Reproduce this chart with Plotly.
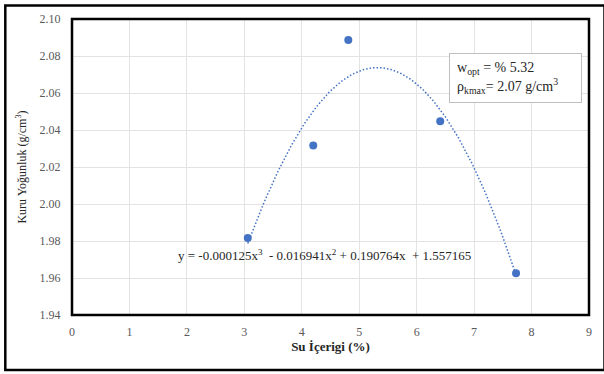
import numpy as np
import plotly.graph_objects as go

# Data
water_content = [3.06, 4.20, 4.81, 6.41, 7.73]
dry_density = [1.9816, 2.0316, 2.0887, 2.0447, 1.9626]
# Trendline coefficients (cubic, highest power first) as printed on chart
trend_coeffs = [-0.000125, -0.016941, 0.190764, 1.557165]
trend_x = np.linspace(min(water_content), max(water_content), 200)
trend_y = np.polyval(trend_coeffs, trend_x)

x_ticks = list(range(0, 10))
y_ticks = [1.94, 1.96, 1.98, 2.00, 2.02, 2.04, 2.06, 2.08, 2.10]

serif = "Liberation Serif"
blue = "#4472C4"

fig = go.Figure()
fig.add_trace(go.Scatter(x=trend_x, y=trend_y, mode="lines",
                         line=dict(color=blue, width=1.5, dash="1.5px,2px"),
                         hoverinfo="skip", showlegend=False))
fig.add_trace(go.Scatter(x=water_content, y=dry_density, mode="markers",
                         marker=dict(color=blue, size=8), showlegend=False))

fig.update_layout(
    width=604, height=374,
    margin=dict(l=72, r=13, t=18, b=59),
    paper_bgcolor="white", plot_bgcolor="white",
    font=dict(family=serif, size=12, color="#595959"),
    xaxis=dict(range=[0, 9], tickvals=x_ticks, showgrid=True, gridcolor="#e3e3e3",
               gridwidth=1, zeroline=False, ticks="outside", ticklen=6, tickcolor="rgba(0,0,0,0)",
               tickfont=dict(family=serif, size=12, color="#595959"),
               title=dict(text="<b>Su İçerigi (%)</b>", font=dict(family=serif, size=13, color="#262626"), standoff=3)),
    yaxis=dict(range=[1.94, 2.10], tickvals=y_ticks, tickformat=".2f", showgrid=True,
               gridcolor="#e3e3e3", gridwidth=1, zeroline=False, ticks="outside", ticklen=8,
               tickcolor="rgba(0,0,0,0)",
               tickfont=dict(family=serif, size=12, color="#595959"),
               title=dict(text="Kuru Yoğunluk (g/cm<sup>3</sup>)", font=dict(family=serif, size=12, color="#262626"), standoff=10)),
    shapes=[
        dict(type="rect", xref="paper", yref="paper", x0=0, x1=1, y0=0, y1=1,
             line=dict(color="black", width=2.5), layer="above"),
        dict(type="rect", xref="paper", yref="paper", x0=-0.129, x1=1.03, y0=-0.186, y1=1.046,
             line=dict(color="black", width=2.5), layer="above"),
    ],
    annotations=[
        dict(xref="paper", yref="paper", x=0.489, y=0.168,
             text="y = -0.000125x<sup>3</sup>  - 0.016941x<sup>2</sup> + 0.190764x  + 1.557165",
             showarrow=False, font=dict(family=serif, size=13, color="#262626")),
        dict(xref="paper", yref="paper", x=0.730, y=0.8855, xanchor="left", yanchor="top",
             text="w<sub>opt</sub> = % 5.32<br>ρ<sub>kmax</sub>= 2.07 g/cm<sup>3</sup>",
             showarrow=False, align="left", bgcolor="white", width=117, height=34,
             bordercolor="#bfbfbf", borderwidth=1, borderpad=7,
             font=dict(family=serif, size=14, color="#262626")),
    ],
)

fig.write_html("out.html")
